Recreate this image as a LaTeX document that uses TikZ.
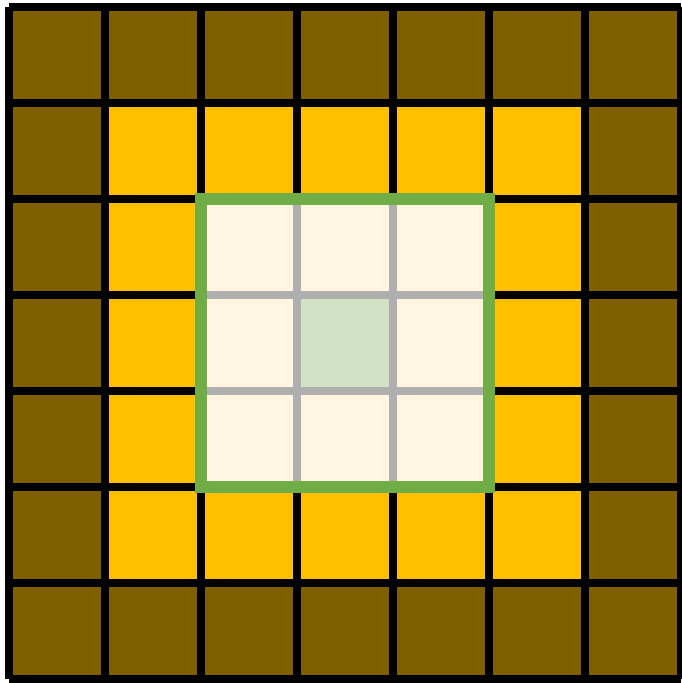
\documentclass[tikz,border=0pt]{standalone}
\definecolor{brownc}{HTML}{7F6000}
\definecolor{yellowc}{HTML}{FFC000}
\definecolor{creamc}{HTML}{FFF5E1}
\definecolor{centerc}{HTML}{D2E3C5}
\definecolor{grayc}{HTML}{AFAFAF}
\definecolor{greenc}{HTML}{70AD47}
\begin{document}
\begin{tikzpicture}[x=0.75pt,y=0.75pt,
  blackgrid/.style={draw=black,line width=6pt,line cap=square},
  graygrid/.style={draw=grayc,line width=5.5pt},
  greenbox/.style={draw=greenc,line width=9pt}]
\useasboundingbox (0,0) rectangle (682,683);
% cells
\foreach \i in {0,...,6}{
  \foreach \j in {0,...,6}{
    \pgfmathtruncatemacro{\ring}{min(min(\i,6-\i),min(\j,6-\j))}
    \ifnum\ring=0 \def\fc{brownc}\fi
    \ifnum\ring=1 \def\fc{yellowc}\fi
    \ifnum\ring=2 \def\fc{creamc}\fi
    \ifnum\ring=3 \def\fc{centerc}\fi
    \fill[\fc] (9+96*\i,676-96*\j) rectangle (105+96*\i,580-96*\j);
  }
}
% black grid
\foreach \k in {0,...,7}{
  \draw[blackgrid] (9+96*\k,676) -- (9+96*\k,4);
  \draw[blackgrid] (9,676-96*\k) -- (681,676-96*\k);
}
% inner gray grid
\fill[creamc] (201,484) rectangle (489,196);
\fill[centerc] (297,388) rectangle (393,292);
\foreach \k in {1,2}{
  \draw[graygrid] (201+96*\k,484) -- (201+96*\k,196);
  \draw[graygrid] (201,484-96*\k) -- (489,484-96*\k);
}
\draw[greenbox] (201,484) rectangle (489,196);
\end{tikzpicture}
\end{document}
